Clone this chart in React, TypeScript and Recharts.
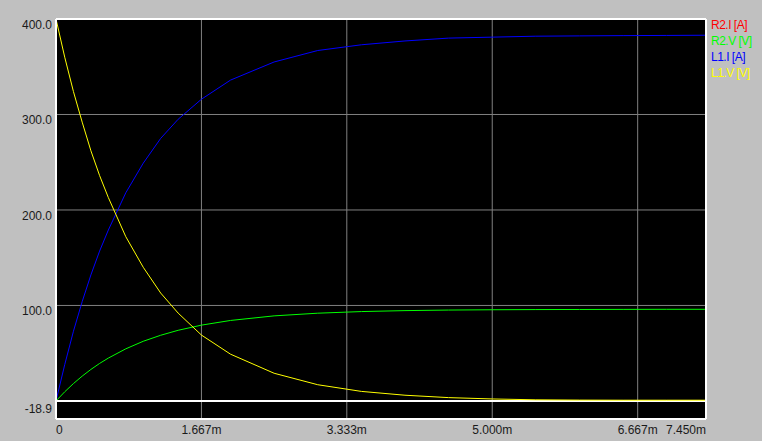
import React from 'react';
import { LineChart, Line, XAxis, YAxis, CartesianGrid, ReferenceLine } from 'recharts';

// time in ms
const timeMs = [0, 0, 0.1, 0.2, 0.3, 0.4, 0.5, 0.6, 0.8, 1.0, 1.2, 1.4, 1.667, 2.0, 2.5, 3.0, 3.5, 4.0, 4.5, 5.0, 5.5, 6.0, 6.5, 7.0, 7.45];
const l1Current = [0, 0, 38, 73, 104, 132, 157, 179, 218, 249, 275, 295, 316, 336, 355, 367, 373, 377, 380, 381, 382, 382.3, 382.6, 382.8, 383];
// R2 is in series with L1: same current, drawn underneath the L1.I trace
const r2Current = [0, 0, 38, 73, 104, 132, 157, 179, 218, 249, 275, 295, 316, 336, 355, 367, 373, 377, 380, 381, 382, 382.3, 382.6, 382.8, 383];
const r2Voltage = [0, 0, 9.6, 18.2, 26, 33, 39.3, 44.9, 54.6, 62.5, 68.8, 74, 79.4, 84.3, 89.1, 91.9, 93.6, 94.6, 95.2, 95.5, 95.7, 95.8, 95.9, 96, 96];
const l1Voltage = [0, 400, 360, 324, 292, 262, 236, 213, 172, 140, 113, 92, 69, 49, 29, 17, 10, 6, 3.5, 2.1, 1.2, 0.9, 0.8, 0.8, 0.8];

const xTicks = [0, 1.667, 3.333, 5.0, 6.667, 7.45];
const xTickLabels = ['0', '1.667m', '3.333m', '5.000m', '6.667m', '7.450m'];
const yTicks = [-18.9, 100, 200, 300, 400];
const yTickLabels = ['-18.9', '100.0', '200.0', '300.0', '400.0'];

const series = [
    { key: 'r2i', name: 'R2.I [A]', color: '#ff0000', covered: true },
    { key: 'r2v', name: 'R2.V [V]', color: '#00ff00', covered: false },
    { key: 'l1i', name: 'L1.I [A]', color: '#0000ff', covered: false },
    { key: 'l1v', name: 'L1.V [V]', color: '#ffff00', covered: false },
];

const data = timeMs.map((t, i) => ({
    t,
    r2i: r2Current[i],
    r2v: r2Voltage[i],
    l1i: l1Current[i],
    l1v: l1Voltage[i],
}));

const font = '"Liberation Sans", Arial, sans-serif';

function YTick(props: any) {
    const { x, y, payload } = props;
    const isBottom = payload.value === yTicks[0];
    return (
        <text x={x} y={isBottom ? y - 6 : y + 10} textAnchor="end" fill="#1a1a1a" fontSize={12} fontFamily={font}>
            {yTickLabels[yTicks.indexOf(payload.value)]}
        </text>
    );
}

function XTick(props: any) {
    const { x, y, payload } = props;
    const i = xTicks.indexOf(payload.value);
    const anchor = i === 0 ? 'start' : i === xTicks.length - 1 ? 'end' : 'middle';
    return (
        <text x={x} y={y + 15} textAnchor={anchor} fill="#1a1a1a" fontSize={12} fontFamily={font}>
            {xTickLabels[i]}
        </text>
    );
}

export default function App() {
    return (
        <div style={{ position: 'absolute', left: 0, top: 0, width: 762, height: 441, background: '#c0c0c0' }}>
            <LineChart width={762} height={441} data={data} margin={{ top: 19, right: 56, bottom: 0, left: 0 }}>
                <CartesianGrid fill="#000000" stroke="#808080" strokeWidth={1} />
                <XAxis
                    dataKey="t"
                    type="number"
                    domain={[0, 7.45]}
                    ticks={xTicks}
                    interval={0}
                    height={22}
                    axisLine={false}
                    tickLine={false}
                    tickSize={0}
                    tickMargin={0}
                    tick={<XTick />}
                />
                <YAxis
                    type="number"
                    domain={[-18.9, 400]}
                    ticks={yTicks}
                    interval={0}
                    width={56}
                    axisLine={false}
                    tickLine={false}
                    tickSize={0}
                    tickMargin={4}
                    tick={<YTick />}
                />
                <ReferenceLine y={0} stroke="#ffffff" strokeWidth={2} />
                {series.map((s) => (
                    <Line
                        key={s.key}
                        type="linear"
                        dataKey={s.key}
                        stroke={s.color}
                        strokeWidth={1}
                        dot={false}
                        hide={s.covered}
                        isAnimationActive={false}
                    />
                ))}
                <ReferenceLine y={400} stroke="#ffffff" strokeWidth={2} />
                <ReferenceLine y={-18.9} stroke="#ffffff" strokeWidth={2} />
                <ReferenceLine x={0} stroke="#ffffff" strokeWidth={2} />
                <ReferenceLine x={7.45} stroke="#ffffff" strokeWidth={2} />
            </LineChart>
            <div style={{ position: 'absolute', left: 711, top: 17, fontFamily: font, fontSize: 12, letterSpacing: '-0.5px', lineHeight: '16px' }}>
                {series.map((s) => (
                    <div key={s.key} style={{ color: s.color }}>{s.name}</div>
                ))}
            </div>
        </div>
    );
}
